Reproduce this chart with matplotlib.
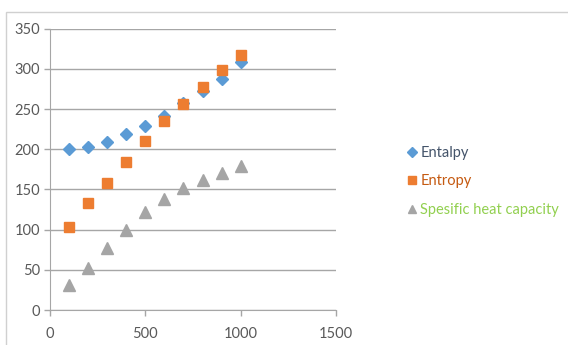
import matplotlib
matplotlib.use("Agg")
import matplotlib.pyplot as plt
from matplotlib.patches import Rectangle

temperature = [100, 200, 300, 400, 500, 600, 700, 800, 900, 1000]
entalpy = [200, 203, 209, 219, 229, 242, 258, 273, 288, 308]
entropy = [103, 133, 158, 184, 210, 235, 256, 278, 298, 317]
heat_capacity = [31, 52, 77, 100, 122, 138, 152, 162, 170, 179]

x_ticks = [0, 500, 1000, 1500]
y_ticks = [0, 50, 100, 150, 200, 250, 300, 350]

plt.rcParams['font.family'] = ['Lato', 'DejaVu Sans']

fig = plt.figure(figsize=(5.68, 3.45), dpi=100)
fig.patches.append(Rectangle((6 / 568, -0.05), 1.1, (345 - 12) / 345 + 0.05,
                             transform=fig.transFigure, fill=False,
                             edgecolor='#D0D0D0', linewidth=1.0))
ax = fig.add_axes([50 / 568, 35 / 345, 286 / 568, 281.3 / 345])

ax.plot(temperature, entalpy, linestyle='none', marker='D', markersize=6.5,
        color='#5B9BD5', label='Entalpy', zorder=3)
ax.plot(temperature, entropy, linestyle='none', marker='s', markersize=7,
        color='#ED7D31', label='Entropy', zorder=4)
ax.plot(temperature, heat_capacity, linestyle='none', marker='^', markersize=8,
        color='#A5A5A5', label='Spesific heat capacity', zorder=3)

ax.set_xlim(0, 1500)
ax.set_ylim(0, 350)
ax.set_xticks(x_ticks)
ax.set_yticks(y_ticks)
ax.grid(axis='y', color='#A6A6A6', linewidth=1.0)
ax.set_axisbelow(True)
for side in ('top', 'right'):
    ax.spines[side].set_visible(False)
for side in ('left', 'bottom'):
    ax.spines[side].set_color('#A6A6A6')
ax.tick_params(axis='both', colors='#A6A6A6', labelcolor='#595959',
               labelsize=10.5, length=4, width=1)
ax.tick_params(axis='x', pad=8)
ax.tick_params(axis='y', pad=3)

leg = fig.legend(loc='upper left', bbox_to_anchor=(392 / 568, 1 - 133 / 345),
                 frameon=False, fontsize=10.5, handletextpad=0.05,
                 handlelength=1.0, labelspacing=0.98,
                 labelcolor=['#44546A', '#C55A11', '#92D050'])
for h in leg.legend_handles:
    h.set_markersize(5.5)

fig.savefig('out.png', dpi=100)
